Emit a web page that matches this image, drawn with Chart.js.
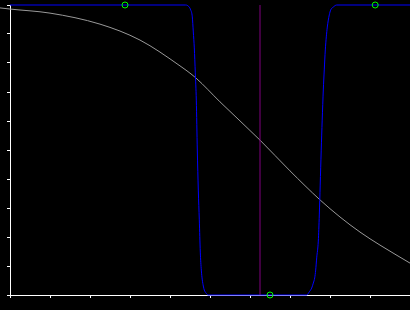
<!DOCTYPE html>
<html>
<head>
<meta charset="utf-8">
<script src="https://cdn.jsdelivr.net/npm/chart.js@4"></script>
<style>
html,body{margin:0;padding:0;background:#000;}
#wrap{width:410px;height:310px;position:relative;}
</style>
</head>
<body>
<div id="wrap"><canvas id="c" width="410" height="310"></canvas></div>
<script>
// Gray decreasing curve (x, y)
const grayX = [-0.25, 0, 1, 2.25, 3.25, 4.25, 4.65, 5.25, 6.25, 7, 7.75, 8.25, 8.75, 9.25, 10];
const grayY = [0.990, 0.986, 0.972, 0.934, 0.879, 0.790, 0.748, 0.666, 0.534, 0.428, 0.328, 0.269, 0.217, 0.172, 0.110];

// Blue well-shaped curve (x, y)
const blueX = [0, 4.375, 4.45, 4.5175, 4.5575, 4.5825, 4.6075, 4.6325, 4.6575, 4.6825, 4.7075, 4.7325, 4.7575, 4.7825, 4.8075, 4.8325, 4.8575, 4.9, 4.95,
               7.375, 7.4175, 7.4825, 7.5425, 7.5825, 7.6175, 7.6425, 7.6675, 7.7075, 7.7325, 7.755, 7.78, 7.805, 7.8325, 7.8575, 7.8825, 7.9075, 7.9325, 7.9575, 7.9825, 8.0175, 8.0825, 8.1675, 10];
const blueY = [1, 1, 0.997, 0.983, 0.959, 0.907, 0.852, 0.766, 0.672, 0.5, 0.362, 0.259, 0.148, 0.086, 0.052, 0.031, 0.017, 0.007, 0,
               0, 0, 0.011, 0.024, 0.041, 0.059, 0.086, 0.128, 0.186, 0.276, 0.379, 0.497, 0.603, 0.707, 0.779, 0.845, 0.890, 0.924, 0.948, 0.966, 0.983, 0.993, 1, 1];

// Vertical marker line
const vlineX = [6.25, 6.25];
const vlineY = [0, 1];

// Green circle markers
const markX = [2.875, 9.13, 6.5];
const markY = [1, 1, 0];

const pts = (xs, ys) => xs.map((x, i) => ({x: x, y: ys[i]}));

const bgPlugin = {
  id: 'bg',
  beforeDraw(chart) {
    const ctx = chart.ctx;
    ctx.save();
    ctx.fillStyle = '#000';
    ctx.fillRect(0, 0, chart.width, chart.height);
    ctx.restore();
  }
};

const noPad = (scale) => {
  scale.paddingLeft = 0; scale.paddingRight = 0;
  scale.paddingTop = 0; scale.paddingBottom = 0;
};

new Chart(document.getElementById('c'), {
  type: 'scatter',
  data: {
    datasets: [
      {
        data: pts(grayX, grayY),
        showLine: true,
        borderColor: '#999999',
        borderWidth: 1,
        pointRadius: 0,
        cubicInterpolationMode: 'monotone',
        clip: false,
        order: 4
      },
      {
        data: pts(blueX, blueY),
        showLine: true,
        borderColor: '#0000ff',
        borderWidth: 1,
        pointRadius: 0,
        cubicInterpolationMode: 'monotone',
        clip: false,
        order: 3
      },
      {
        data: pts(vlineX, vlineY),
        showLine: true,
        borderColor: '#800080',
        borderWidth: 1,
        pointRadius: 0,
        order: 2
      },
      {
        data: pts(markX, markY),
        showLine: false,
        pointStyle: 'circle',
        pointRadius: 3,
        pointBorderWidth: 1,
        pointBorderColor: '#00ff00',
        pointBackgroundColor: 'rgba(0,0,0,0)',
        clip: false,
        order: 1
      }
    ]
  },
  options: {
    responsive: false,
    animation: false,
    events: [],
    layout: { autoPadding: false, padding: { left: 7, right: 0, top: 5, bottom: 12 } },
    plugins: { legend: { display: false }, tooltip: { enabled: false } },
    scales: {
      x: {
        type: 'linear',
        min: 0, max: 10,
        afterFit: noPad,
        ticks: { display: false, stepSize: 1 },
        grid: { drawOnChartArea: false, drawTicks: true, tickLength: 3, color: '#ffffff', lineWidth: 1 },
        border: { display: true, color: '#ffffff', width: 1 }
      },
      y: {
        type: 'linear',
        min: 0, max: 1,
        afterFit: noPad,
        ticks: { display: false, stepSize: 0.1 },
        grid: { drawOnChartArea: false, drawTicks: true, tickLength: 3, color: '#ffffff', lineWidth: 1 },
        border: { display: true, color: '#ffffff', width: 1 }
      }
    }
  },
  plugins: [bgPlugin]
});
</script>
</body>
</html>
